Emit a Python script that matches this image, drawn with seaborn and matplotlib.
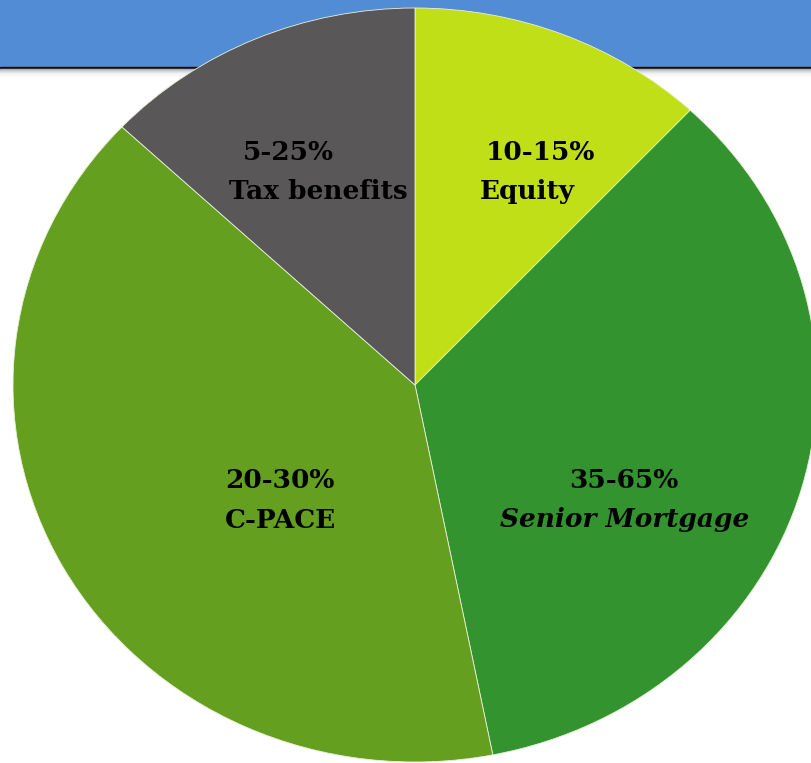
import matplotlib.pyplot as plt
import seaborn as sns
from matplotlib.patches import Rectangle

sns.set_theme(style="white")
plt.rcParams["font.family"] = ["DejaVu Serif"]

# Financing stack, slices clockwise from 12 o'clock
categories = ["Equity", "Senior Mortgage", "C-PACE", "Tax benefits"]
ranges = ["10-15%", "35-65%", "20-30%", "5-25%"]
shares = [12.0, 34.9, 40.1, 13.0]
colors = ["#c0df16", "#33932f", "#649f1f", "#5a5759"]

W, H = 811, 763
fig = plt.figure(figsize=(W / 100, H / 100), dpi=100)

# Blue banner with a dark rule and soft shadow underneath
fig.patches.append(Rectangle((0, 1 - 67 / H), 1, 67 / H, transform=fig.transFigure,
                             color="#528cd4", zorder=0))
fig.patches.append(Rectangle((0, 1 - 69 / H), 1, 2.4 / H, transform=fig.transFigure,
                             color="#111111", zorder=0))
for i, g in enumerate(["#b0b0b0", "#c4c4c4", "#d6d6d6", "#e4e4e4", "#eeeeee", "#f6f6f6"]):
    fig.patches.append(Rectangle((0, 1 - (70 + i) / H), 1, 1.05 / H,
                                 transform=fig.transFigure, color=g, zorder=0))

ax = fig.add_axes([0, 0, 1, 1])
ax.set_zorder(2)
ax.patch.set_alpha(0)
ax.pie(shares, colors=colors, startangle=90, counterclock=False,
       wedgeprops={"edgecolor": "#e8f0d8", "linewidth": 0.6})
ax.set_aspect("auto")
cx, cy, rx, ry = 415, 385, 402, 377
ax.set_xlim(-cx / rx, (W - cx) / rx)
ax.set_ylim(-(H - cy) / ry, cy / ry)
ax.axis("off")

# label positions in pixels: (range line, name line)
label_pos = {
    "Equity": ((540, 152), (527, 192)),
    "Senior Mortgage": ((624, 480), (625, 520)),
    "C-PACE": ((280, 480), (280, 520)),
    "Tax benefits": ((288, 152), (318, 192)),
}
for cat, rng in zip(categories, ranges):
    (x1, y1), (x2, y2) = label_pos[cat]
    style = "italic" if cat == "Senior Mortgage" else "normal"
    ax.text(x1 / W, 1 - y1 / H, rng, transform=fig.transFigure,
            ha="center", va="center", fontsize=19, fontweight="bold", color="black",
            zorder=5)
    ax.text(x2 / W, 1 - y2 / H, cat, transform=fig.transFigure,
            ha="center", va="center", fontsize=19, fontweight="bold", style=style,
            color="black", zorder=5)

fig.savefig("out.png", dpi=100)
